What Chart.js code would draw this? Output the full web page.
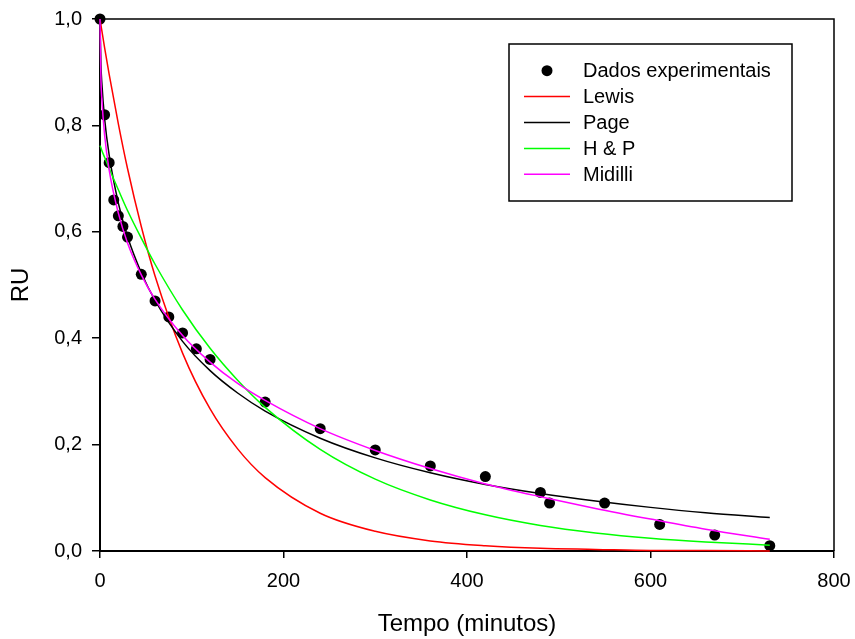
<!DOCTYPE html>
<html>
<head>
<meta charset="utf-8">
<title>RU x Tempo</title>
<script src="https://cdn.jsdelivr.net/npm/chart.js@4.4.1/dist/chart.umd.min.js"></script>
<style>
  html, body { margin: 0; padding: 0; background: #ffffff; }
  #wrap { width: 855px; height: 639px; }
</style>
</head>
<body>
<div id="wrap"><canvas id="grafico" width="855" height="639"></canvas></div>
<script>
// Dados experimentais de secagem (tempo em minutos, razão de umidade)
const tempoExp = [0, 5, 10, 15, 20, 25, 30, 45, 60, 75, 90, 105, 120, 180, 240, 300, 360, 420, 480, 490, 550, 610, 670, 730];
const ruExp    = [1.00, 0.82, 0.73, 0.66, 0.63, 0.61, 0.59, 0.52, 0.47, 0.44, 0.41, 0.38, 0.36, 0.28, 0.23, 0.19, 0.16, 0.14, 0.11, 0.09, 0.09, 0.05, 0.03, 0.01];

// Curvas dos modelos ajustados, amostradas nos tempos abaixo
const tempoModelo = [0, 1, 2, 5, 10, 20, 30, 45, 60, 90, 120, 150, 180, 240, 300, 360, 420, 480, 540, 600, 660, 730];
const ruLewis   = [1.000, 0.989, 0.978, 0.946, 0.896, 0.803, 0.719, 0.610, 0.517, 0.372, 0.267, 0.192, 0.138, 0.071, 0.037, 0.019, 0.010, 0.005, 0.003, 0.001, 0.001, 0.000];
const ruPage    = [1.000, 0.915, 0.880, 0.813, 0.744, 0.654, 0.591, 0.523, 0.471, 0.394, 0.339, 0.297, 0.263, 0.212, 0.175, 0.147, 0.125, 0.108, 0.094, 0.082, 0.072, 0.063];
const ruHP      = [0.762, 0.758, 0.753, 0.740, 0.719, 0.679, 0.640, 0.588, 0.539, 0.453, 0.381, 0.321, 0.270, 0.191, 0.135, 0.096, 0.068, 0.048, 0.034, 0.024, 0.017, 0.011];
const ruMidilli = [1.000, 0.887, 0.850, 0.782, 0.716, 0.635, 0.579, 0.519, 0.473, 0.405, 0.355, 0.315, 0.283, 0.230, 0.189, 0.155, 0.126, 0.102, 0.080, 0.060, 0.041, 0.022];

// Rótulos dos eixos
const xTickLabels = ['0', '200', '400', '600', '800'];
const yTickLabels = ['0,0', '0,2', '0,4', '0,6', '0,8', '1,0'];

const FONTE = "'Liberation Sans', Arial, Helvetica, sans-serif";

function pares(xs, ys) {
  return xs.map((x, i) => ({ x: x, y: ys[i] }));
}

function curva(rotulo, ys, cor, ordem) {
  return {
    label: rotulo,
    data: pares(tempoModelo, ys),
    showLine: true,
    borderColor: cor,
    backgroundColor: cor,
    borderWidth: 1.5,
    pointRadius: 0,
    pointHoverRadius: 0,
    cubicInterpolationMode: 'monotone',
    clip: 4,
    order: ordem
  };
}

// Moldura superior e direita da área do gráfico
const moldura = {
  id: 'moldura',
  beforeDatasetsDraw(chart) {
    const { ctx, chartArea: a } = chart;
    ctx.save();
    ctx.strokeStyle = '#000000';
    ctx.lineWidth = 1.5;
    ctx.beginPath();
    ctx.moveTo(a.left, a.top);
    ctx.lineTo(a.right, a.top);
    ctx.lineTo(a.right, a.bottom);
    ctx.stroke();
    ctx.restore();
  }
};

// Legenda em caixa dentro da área do gráfico
const legendaCaixa = {
  id: 'legendaCaixa',
  afterDraw(chart, args, opts) {
    const { ctx, chartArea: a } = chart;
    const bx = a.left + opts.dx, by = a.top + opts.dy;
    ctx.save();
    ctx.fillStyle = '#ffffff';
    ctx.fillRect(bx, by, opts.w, opts.h);
    ctx.strokeStyle = '#000000';
    ctx.lineWidth = 1.5;
    ctx.strokeRect(bx, by, opts.w, opts.h);
    ctx.font = '20px ' + FONTE;
    ctx.textBaseline = 'middle';
    ctx.textAlign = 'left';
    chart.data.datasets.forEach((ds, i) => {
      const cy = by + opts.firstRow + i * opts.rowStep;
      if (ds.showLine) {
        ctx.strokeStyle = ds.borderColor;
        ctx.lineWidth = 1.5;
        ctx.beginPath();
        ctx.moveTo(bx + opts.sampleStart, cy);
        ctx.lineTo(bx + opts.sampleEnd, cy);
        ctx.stroke();
      } else {
        ctx.fillStyle = ds.backgroundColor;
        ctx.beginPath();
        ctx.arc(bx + (opts.sampleStart + opts.sampleEnd) / 2, cy, ds.pointRadius, 0, Math.PI * 2);
        ctx.fill();
      }
      ctx.fillStyle = '#000000';
      ctx.fillText(ds.label, bx + opts.textStart, cy + 1);
    });
    ctx.restore();
  }
};

new Chart(document.getElementById('grafico'), {
  type: 'scatter',
  data: {
    datasets: [
      {
        label: 'Dados experimentais',
        data: pares(tempoExp, ruExp),
        showLine: false,
        pointRadius: 5.5,
        pointHoverRadius: 5.5,
        pointBorderWidth: 0,
        backgroundColor: '#000000',
        borderColor: '#000000',
        clip: false,
        order: 10
      },
      curva('Lewis', ruLewis, '#ff0000', 4),
      curva('Page', ruPage, '#000000', 3),
      curva('H & P', ruHP, '#00ff00', 2),
      curva('Midilli', ruMidilli, '#ff00ff', 1)
    ]
  },
  options: {
    responsive: false,
    animation: false,
    devicePixelRatio: 1,
    layout: { padding: { left: 0, right: 21, top: 19, bottom: 0 } },
    plugins: {
      legend: { display: false },
      tooltip: { enabled: false },
      legendaCaixa: {
        dx: 409, dy: 25, w: 283, h: 157,
        firstRow: 26.7, rowStep: 25.9,
        sampleStart: 15, sampleEnd: 61, textStart: 74
      }
    },
    scales: {
      x: {
        type: 'linear',
        position: 'bottom',
        min: 0,
        max: 800,
        afterFit: (s) => { s.height = 88; s.paddingLeft = 0; s.paddingRight = 0; },
        ticks: {
          stepSize: 200,
          padding: 11,
          color: '#000000',
          font: { family: FONTE, size: 20 },
          maxRotation: 0,
          callback: (v, i) => xTickLabels[i]
        },
        grid: {
          drawOnChartArea: false,
          drawTicks: true,
          tickLength: 7,
          color: '#000000',
          lineWidth: 1.5
        },
        border: { display: true, color: '#000000', width: 2 },
        title: {
          display: true,
          text: 'Tempo (minutos)',
          color: '#000000',
          font: { family: FONTE, size: 24 },
          padding: { top: 0, bottom: 0 }
        }
      },
      y: {
        type: 'linear',
        position: 'left',
        min: 0,
        max: 1,
        afterFit: (s) => { s.width = 100; s.paddingTop = 0; s.paddingBottom = 0; },
        ticks: {
          stepSize: 0.2,
          padding: 10,
          color: '#000000',
          font: { family: FONTE, size: 20 },
          callback: (v, i) => yTickLabels[i]
        },
        grid: {
          drawOnChartArea: false,
          drawTicks: true,
          tickLength: 8,
          color: '#000000',
          lineWidth: 1.5
        },
        border: { display: true, color: '#000000', width: 2 },
        title: {
          display: true,
          text: 'RU',
          color: '#000000',
          font: { family: FONTE, size: 24 },
          padding: { top: 7, bottom: 0 }
        }
      }
    }
  },
  plugins: [moldura, legendaCaixa]
});
</script>
</body>
</html>
